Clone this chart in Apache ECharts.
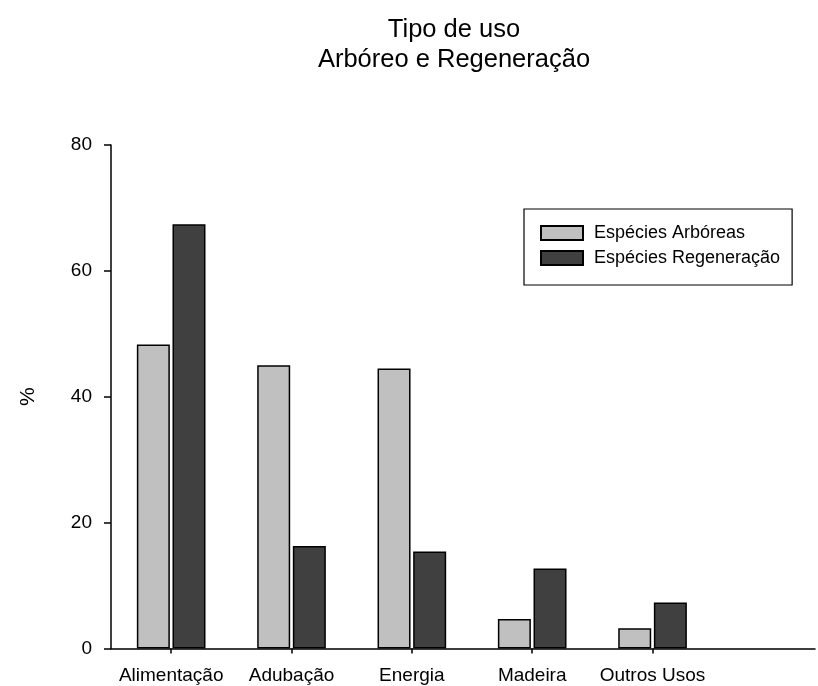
<!DOCTYPE html>
<html><head><meta charset="utf-8">
<script src="https://cdn.jsdelivr.net/npm/echarts@6/dist/echarts.min.js"></script>
<style>html,body{margin:0;padding:0;background:#fff}#c{width:818px;height:686px}</style>
</head><body><div id="c"></div>
<script>
const categories = ['Alimentação', 'Adubação', 'Energia', 'Madeira', 'Outros Usos'];
const arboreas = [48.3, 45.0, 44.5, 4.7, 3.2];
const regeneracao = [67.4, 16.3, 15.4, 12.7, 7.3];
const seriesNames = ['Espécies Arbóreas', 'Espécies Regeneração'];
const yTicks = [0, 20, 40, 60, 80];

const pos = categories.map((c, i) => i + 0.5);
const font = 'Liberation Sans, Arial, sans-serif';
const chart = echarts.init(document.getElementById('c'));
chart.setOption({
  animation: false,
  backgroundColor: '#fff',
  title: {
    text: 'Tipo de uso\nArbóreo e Regeneração',
    left: 449, top: 10, textAlign: 'center',
    textStyle: { fontFamily: font, fontSize: 25.5, fontWeight: 'normal', color: '#000', lineHeight: 30 }
  },
  legend: {
    orient: 'vertical', left: 524, top: 209,
    padding: [15, 12, 18, 16], itemGap: 7, itemWidth: 42, itemHeight: 14,
    borderColor: '#000', borderWidth: 1.2, icon: 'rect',
    textStyle: { fontFamily: font, fontSize: 18, color: '#000', lineHeight: 18, padding: [0, 0, 0, 6] },
    data: seriesNames
  },
  grid: { left: 111, right: 3, top: 145, bottom: 686 - 648.5, containLabel: false },
  xAxis: {
    type: 'value', min: 0, max: 5.85,
    axisLine: { lineStyle: { color: '#000', width: 1.5 } },
    splitLine: { show: false },
    axisTick: { customValues: pos, length: 5, inside: false, lineStyle: { color: '#000', width: 1.5 } },
    axisLabel: { customValues: pos, margin: 18, fontFamily: font, fontSize: 19, color: '#000',
      formatter: v => categories[Math.round(v - 0.5)] }
  },
  yAxis: {
    type: 'value', min: 0, max: 80, interval: 20,
    name: '%', nameLocation: 'middle', nameGap: 72, nameRotate: 90,
    nameTextStyle: { fontFamily: font, fontSize: 21, color: '#000' },
    axisLine: { show: true, lineStyle: { color: '#000', width: 1.5 } },
    axisTick: { show: true, length: 7, lineStyle: { color: '#000', width: 1.5 } },
    splitLine: { show: false },
    axisLabel: { margin: 19, fontFamily: font, fontSize: 19, color: '#000',
      customValues: yTicks }
  },
  series: [
    { name: seriesNames[0], type: 'bar', barWidth: 33, barGap: '8%',
      itemStyle: { color: '#c0c0c0', borderColor: '#000', borderWidth: 1.5 },
      data: pos.map((x, i) => [x, arboreas[i]]) },
    { name: seriesNames[1], type: 'bar', barWidth: 33, barGap: '8%',
      itemStyle: { color: '#404040', borderColor: '#000', borderWidth: 1.5 },
      data: pos.map((x, i) => [x, regeneracao[i]]) }
  ]
});
</script></body></html>
